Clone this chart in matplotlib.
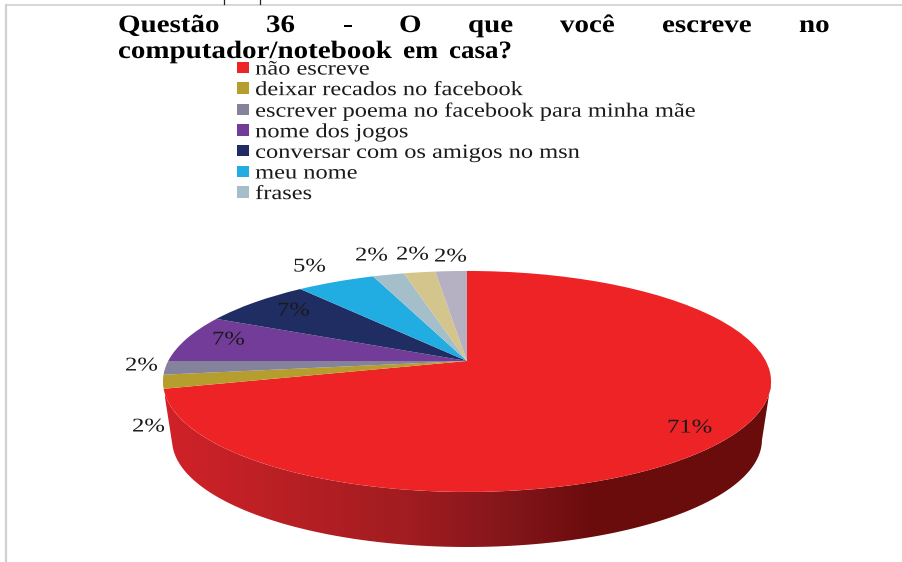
import numpy as np
import matplotlib
matplotlib.use("Agg")
import matplotlib.pyplot as plt
from matplotlib.colors import LinearSegmentedColormap
from matplotlib.lines import Line2D
from matplotlib.patches import Polygon
from matplotlib.patheffects import AbstractPathEffect
from matplotlib.transforms import Affine2D, Transform

plt.rcParams['font.family'] = ['Liberation Serif', 'DejaVu Serif']

# Survey answers, in percent; the last two slices carry no legend entry
categories = ["não escreve", "deixar recados no facebook",
              "escrever poema no facebook para minha mãe", "nome dos jogos",
              "conversar com os amigos no msn", "meu nome", "frases"]
values = [71, 2, 2, 7, 7, 5, 2, 2, 2]
slice_colors = ["#ee2326", "#b59d2e", "#85829b", "#733c98", "#1f2d63",
                "#22ade2", "#a5bfca", "#d4c58d", "#b5b1c3"]
title_line1 = ["Questão", "36", "-", "O", "que", "você", "escreve", "no"]
title_line2 = ["computador/notebook", "em", "casa?"]

# Layout, in figure pixels: left edge and vertical centre of each value label
title_x1 = [118, 266, 343, 399, 468, 560, 662, 799]
title_x2 = [118, 403, 449]
title_widen2 = [1.16, 1.1, 1.08]
label_lefts = [667, 132, 125, 212, 277, 293, 355, 396, 434]
label_middles = [428, 427, 366, 340, 311, 267, 256, 255, 257]
wall_stops = [(0.0, "#d02228"), (0.25, "#bb2025"), (0.57, "#a01c20"),
              (0.81, "#82151a"), (1.0, "#6a0b0c")]


class TiltedDisc(Transform):
    """Projects the unit disc onto a receding plane, in pixel coordinates."""
    input_dims = output_dims = 2
    is_separable = False
    has_inverse = False

    def __init__(self, cx=467.0, cy=361.0, kx=298.8, ky=106.7, p=0.185):
        super().__init__()
        self.cx, self.cy, self.kx, self.ky, self.p = cx, cy, kx, ky, p

    def transform_non_affine(self, values):
        pts = np.asarray(values, dtype=float)
        d = 1 + self.p * pts[:, 1]
        return np.column_stack((self.cx + self.kx * pts[:, 0] / d,
                                self.cy - self.ky * pts[:, 1] / d))


class WideText(AbstractPathEffect):
    """Widens glyph outlines horizontally, starting at the text's left edge."""

    def __init__(self, factor):
        super().__init__()
        self.factor = factor

    def draw_path(self, renderer, gc, tpath, affine, rgbFace=None):
        renderer.draw_path(gc, tpath, Affine2D().scale(self.factor, 1) + affine, rgbFace)


fig = plt.figure(figsize=(9.02, 5.62), dpi=100)
ax = fig.add_axes([0, 0, 1, 1])

wedges, _ = ax.pie(values, colors=slice_colors, startangle=90, counterclock=False,
                   wedgeprops=dict(linewidth=0))
top_face = TiltedDisc()
for wedge in wedges:
    wedge.set_transform(top_face + ax.transData)
    wedge.set_zorder(3)

# Side wall of the large slice, from the right extreme of the rim to its end
base_face = TiltedDisc(cy=420.0, kx=298.8 * 0.97, ky=106.7 * 0.97)
end_angle = 2 * np.pi * values[0] / sum(values)
sweep = np.linspace(0, end_angle, 500)
unit_rim = np.column_stack((np.sin(sweep), np.cos(sweep)))
upper_rim = top_face.transform(unit_rim)
lower_rim = base_face.transform(unit_rim)
start = int(np.argmax(upper_rim[:, 0]))
outline = np.vstack((upper_rim[start:], lower_rim[start:][::-1]))

wall_cmap = LinearSegmentedColormap.from_list("wall", wall_stops)
gradient = np.linspace(0, 1, 256).reshape(1, -1)
wall = ax.imshow(gradient, cmap=wall_cmap, extent=(165, 597, 562, 0),
                 aspect="auto", zorder=1)
ext = ax.imshow(np.ones((1, 1)),
                cmap=LinearSegmentedColormap.from_list("end", ["#6a0b0c", "#6a0b0c"]),
                extent=(597, 775, 562, 0), aspect="auto", zorder=1)
clip = Polygon(outline, closed=True, transform=ax.transData, fc="none", ec="none")
ax.add_patch(clip)
wall.set_clip_path(clip)
ext.set_clip_path(clip)

ax.set_aspect("auto")
ax.set_xlim(0, 902)
ax.set_ylim(562, 0)
ax.axis("off")

# Page border and the stubs of the rule above it
ax.add_line(Line2D([5.5, 5.5], [4.5, 562], color="#d0d0d0", lw=1.6))
ax.add_line(Line2D([5.5, 902], [4.5, 4.5], color="#d0d0d0", lw=1.2))
for stub_x in (224, 260):
    ax.add_line(Line2D([stub_x, stub_x], [0, 4], color="#222222", lw=0.9))

# The title is justified, so each word sits at its own position
for word, x in zip(title_line1, title_x1):
    ax.text(x, 32, word, fontsize=18, fontweight="bold", color="black",
            ha="left", va="baseline", path_effects=[WideText(1.16)])
for word, x, widen in zip(title_line2, title_x2, title_widen2):
    ax.text(x, 58, word, fontsize=18, fontweight="bold", color="black",
            ha="left", va="baseline", path_effects=[WideText(widen)])

for value, x, y in zip(values, label_lefts, label_middles):
    ax.text(x, y, f"{value}%", fontsize=14, color="#1a1a1a",
            ha="left", va="center", zorder=5, path_effects=[WideText(1.27)])

legend = ax.legend(wedges[:7], categories, loc="upper left",
                   bbox_to_anchor=(233 / 902, 1 - 56.5 / 562), frameon=False,
                   fontsize=14.5, handlelength=0.6, handleheight=0.5,
                   handletextpad=0.3, labelspacing=0.08, borderpad=0.2, borderaxespad=0,
                   labelcolor="#1a1a1a")
for entry in legend.get_texts():
    entry.set_path_effects([WideText(1.212)])

fig.savefig("out.png", dpi=100, facecolor="white")
